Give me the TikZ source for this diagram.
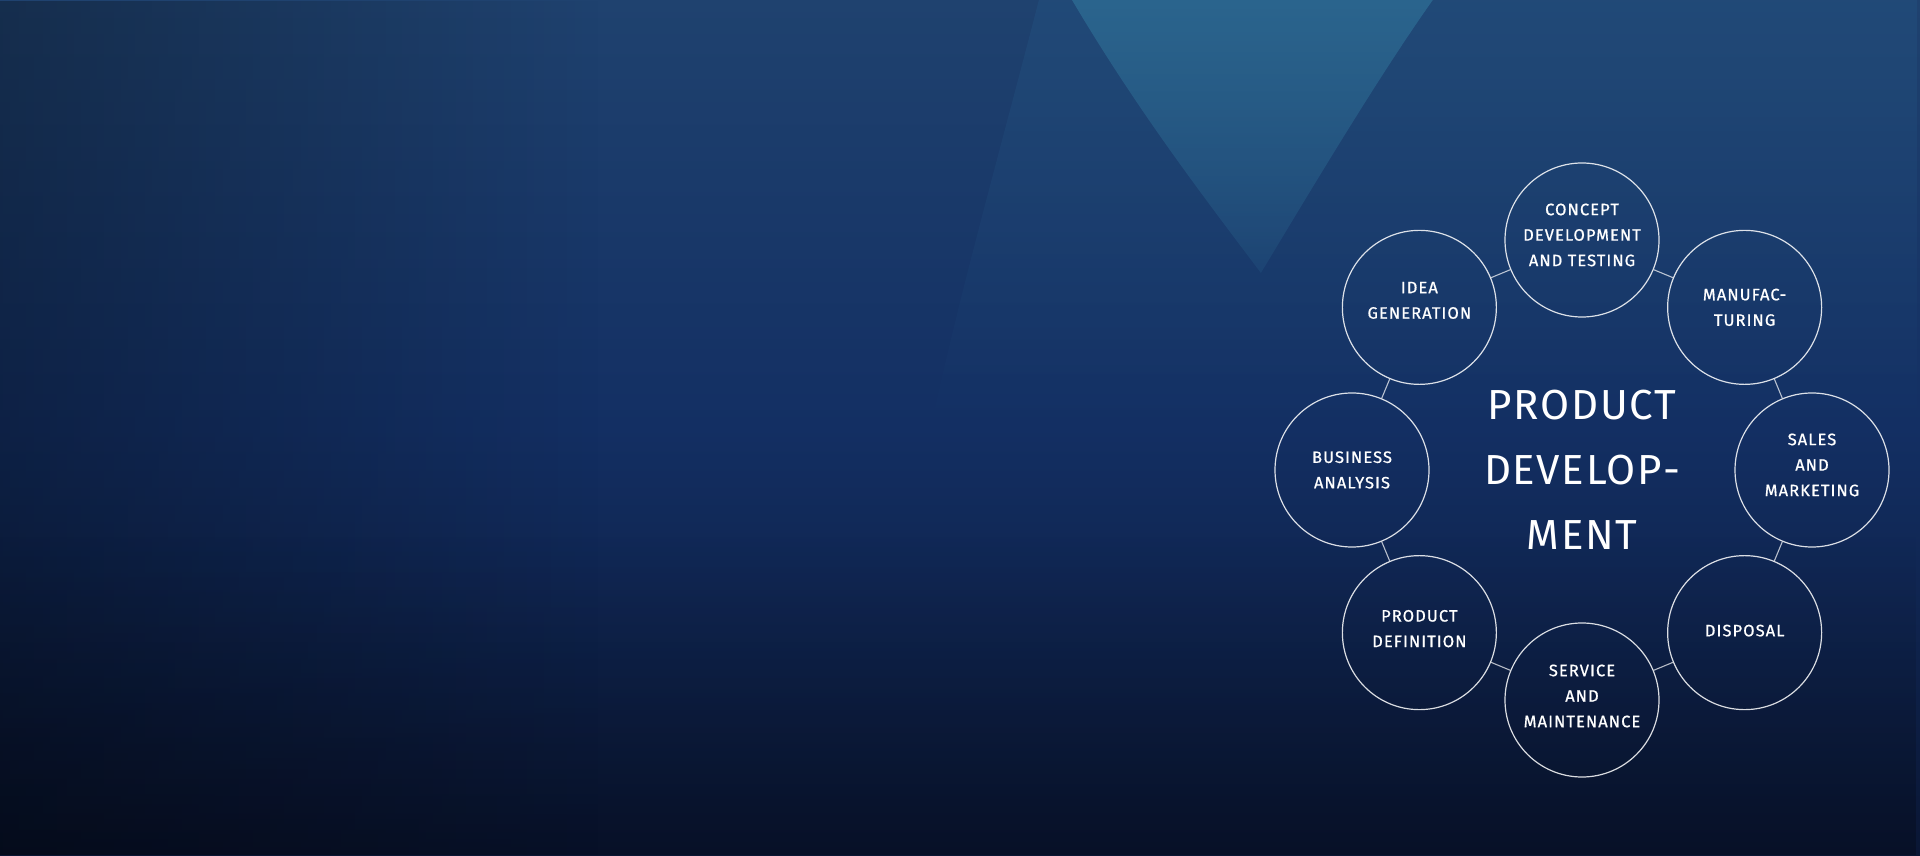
\documentclass[tikz,border=0pt]{standalone}
\usepackage{fontspec}
\setmainfont{Fira Sans}
\newfontfamily\smallfnt[LetterSpace=6.5,FakeBold=0.8]{Fira Sans}
\newfontfamily\bigfnt[LetterSpace=4]{Fira Sans}
\usetikzlibrary{fadings,calc}
\definecolor{bgtop}{HTML}{1F426F}
\definecolor{bgmid}{HTML}{132F63}
\definecolor{bgbot}{HTML}{0A1634}
\definecolor{wedge}{HTML}{2E6E95}
\definecolor{band}{HTML}{245584}
\tikzfading[name=wedgefade, top color=transparent!0, bottom color=transparent!75]
\tikzset{
  stage/.style={circle, draw=white, draw opacity=0.85, line width=1.2pt, minimum size=154pt, inner sep=0pt},
  stagetext/.style={text=white, align=center, font=\smallfnt\fontsize{16.5}{25.5}\selectfont},
  link/.style={draw=white, draw opacity=0.7, line width=1.1pt},
  title/.style={text=white, align=center, font=\bigfnt\fontsize{42}{65}\selectfont}
}
\begin{document}
\begin{tikzpicture}[x=1pt,y=1pt]
\useasboundingbox (0,0) rectangle (1920,855);
% background
\shade[top color=bgtop, bottom color=bgbot, middle color=bgmid] (0,0) rectangle (1920,855);
\fill[band, fill opacity=0.4, path fading=south] (1040,855) .. controls (1000,700) and (960,560) .. (930,420) -- (1920,420) -- (1920,855) -- cycle;
\fill[wedge, fill opacity=0.75, path fading=wedgefade] (1072,855) .. controls (1140,740) and (1210,650) .. (1261,582) .. controls (1320,680) and (1380,780) .. (1433,855) -- cycle;
\fill[black, fill opacity=0.3, path fading=east] (0,0) rectangle (600,855);
\fill[black, fill opacity=0.25, path fading=north] (0,0) rectangle (1920,320);
% stages
\coordinate (ctr) at (1582,385);
\node[stage] (concept) at ($(ctr)+(90:230)$) {};
\node[stage] (manuf) at ($(ctr)+(45:230)$) {};
\node[stage] (sales) at ($(ctr)+(0:230)$) {};
\node[stage] (disposal) at ($(ctr)+(-45:230)$) {};
\node[stage] (service) at ($(ctr)+(-90:230)$) {};
\node[stage] (proddef) at ($(ctr)+(-135:230)$) {};
\node[stage] (business) at ($(ctr)+(180:230)$) {};
\node[stage] (idea) at ($(ctr)+(135:230)$) {};
\node[stagetext] (t1) at ([yshift=5pt]concept.center) {CONCEPT\\DEVELOPMENT\\AND TESTING};
\node[stagetext] (t2) at (manuf.center) {MANUFAC-\\TURING};
\node[stagetext] (t3) at ([yshift=5pt]sales.center) {SALES\\AND\\MARKETING};
\node[stagetext] (t4) at ([yshift=2pt]disposal.center) {DISPOSAL};
\node[stagetext] (t5) at ([yshift=4pt]service.center) {SERVICE\\AND\\MAINTENANCE};
\node[stagetext] (t6) at ([yshift=4pt]proddef.center) {PRODUCT\\DEFINITION};
\node[stagetext] (t7) at (business.center) {BUSINESS\\ANALYSIS};
\node[stagetext] (t8) at ([yshift=7pt]idea.center) {IDEA\\GENERATION};
\node[title] (main) at (ctr) {PRODUCT\\DEVELOP-\\MENT};
% links
\draw[link] (concept) -- (manuf);
\draw[link] (manuf) -- (sales);
\draw[link] (sales) -- (disposal);
\draw[link] (disposal) -- (service);
\draw[link] (service) -- (proddef);
\draw[link] (proddef) -- (business);
\draw[link] (business) -- (idea);
\draw[link] (idea) -- (concept);
\end{tikzpicture}
\end{document}
